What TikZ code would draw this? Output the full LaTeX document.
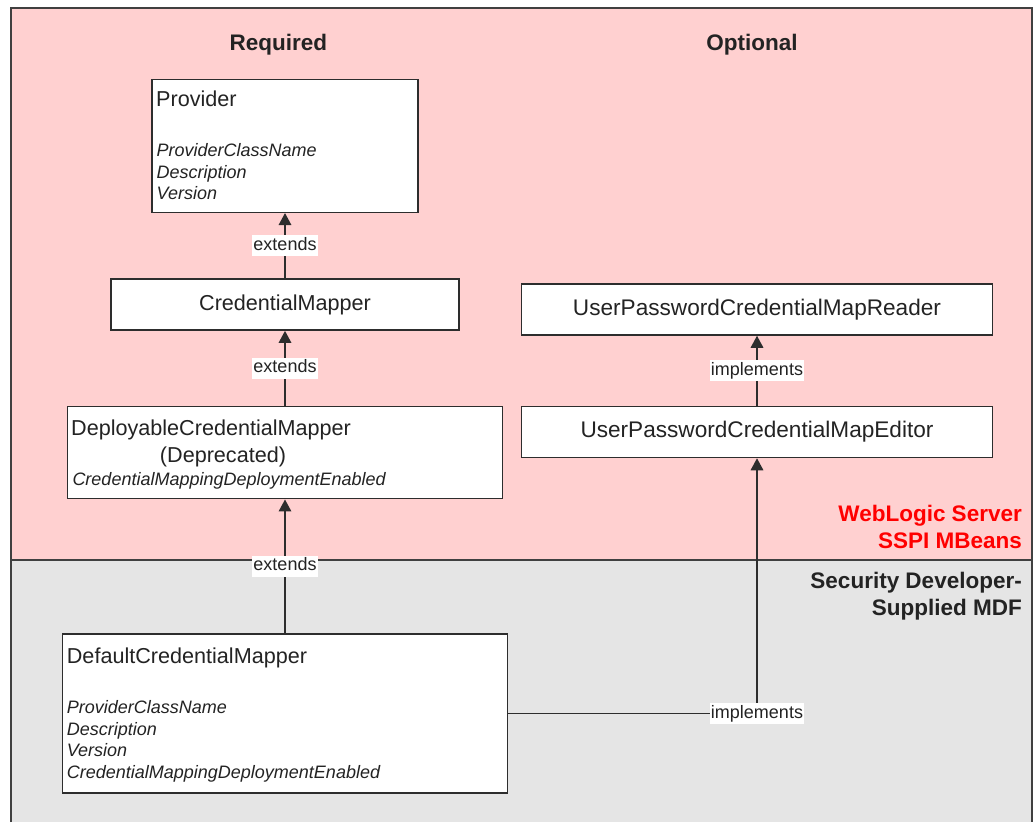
\documentclass[tikz,border=0pt]{standalone}
\usepackage{fontspec}
\setmainfont{Liberation Sans}
\usepackage{xcolor}
\usepackage{tikz}
\usetikzlibrary{arrows.meta}

\definecolor{pinkbg}{RGB}{255,208,208}
\definecolor{graybg}{RGB}{229,229,229}
\definecolor{frameline}{RGB}{64,64,64}
\definecolor{boxline}{RGB}{45,45,45}
\definecolor{txt}{RGB}{35,35,35}
\definecolor{mbeanred}{RGB}{255,0,0}

\tikzset{
  frame/.style={draw=frameline, line width=1.5pt},
  box/.style={draw=boxline, line width=1.5pt, fill=white, inner sep=0pt, text=txt},
  title/.style={font=\fontsize{21.6}{26}\selectfont, text=txt, inner sep=0pt, anchor=base west},
  attr/.style={font=\fontsize{18}{21.6}\selectfont\itshape, text=txt, inner sep=0pt, anchor=base west},
  lbl/.style={font=\fontsize{18}{21}\selectfont, fill=white, text=txt, inner xsep=1pt, inner ysep=2pt, text height=13pt, text depth=4pt},
  head/.style={font=\fontsize{22.5}{27}\selectfont\bfseries, inner sep=0pt},
  arr/.style={draw=boxline, line width=1.6pt, -{Triangle[width=12.5pt,length=12pt]}}
}

\begin{document}
\begin{tikzpicture}[x=1pt,y=-1pt]
  \useasboundingbox (0,0) rectangle (1033,822);
  % the two zones
  \fill[pinkbg] (11,8) rectangle (1032,560);
  \fill[graybg] (11,560) rectangle (1032,822);
  \draw[frame] (11,822) -- (11,8) -- (1032,8) -- (1032,822);
  \draw[frame] (11,560) -- (1032,560);

  \node[head, anchor=base, text=txt] (req) at (278.3,50) {Required};
  \node[head, anchor=base, text=txt] (opt) at (752,50) {Optional};
  \node[head, anchor=base east, text=mbeanred] (wls1) at (1022,521.7) {WebLogic Server};
  \node[head, anchor=base east, text=mbeanred] (wls2) at (1022,548.3) {SSPI MBeans};
  \node[head, anchor=base east, text=txt] (sdm1) at (1022,588.3) {Security Developer-};
  \node[head, anchor=base east, text=txt] (sdm2) at (1022,615) {Supplied MDF};

  % required column
  \node[box, minimum width=266pt, minimum height=133pt] (provider) at (285,145.8) {};
  \node[title] (provider-t) at (156,106) {Provider};
  \foreach \a [count=\i] in {ProviderClassName,Description,Version}
    \node[attr] (provider-\i) at (156.5,135.2+21.5*\i) {\a};

  \node[box, minimum width=348pt, minimum height=51pt, font=\fontsize{21.6}{26}\selectfont] (cmapper) at (285,304.6) {CredentialMapper};

  \node[box, minimum width=435pt, minimum height=92pt] (deploy) at (285,452.7) {};
  \node[title] (deploy-t) at (71,435) {DeployableCredentialMapper};
  \node[title, anchor=base] (deploy-d) at (223,462) {(Deprecated)};
  \node[attr] (deploy-1) at (72.3,485) {CredentialMappingDeploymentEnabled};

  \node[box, minimum width=445pt, minimum height=159pt] (default) at (285,713.6) {};
  \node[title] (default-t) at (66.7,663.3) {DefaultCredentialMapper};
  \foreach \a [count=\i] in {ProviderClassName,Description,Version,CredentialMappingDeploymentEnabled}
    \node[attr] (default-\i) at (66.7,691.6+21.7*\i) {\a};

  % optional column
  \node[box, minimum width=471pt, minimum height=51pt, font=\fontsize{22.6}{27}\selectfont] (reader) at (757,309.5) {UserPasswordCredentialMapReader};
  \node[box, minimum width=471pt, minimum height=51pt, font=\fontsize{22.6}{27}\selectfont] (editor) at (757,432) {UserPasswordCredentialMapEditor};

  % connectors
  \draw[arr] (cmapper) -- (provider) node[lbl, midway] (ext1) {extends};
  \draw[arr] (deploy) -- (cmapper) node[lbl, midway] (ext2) {extends};
  \draw[arr] (default) -- (deploy) node[lbl, midway] (ext3) {extends};
  \draw[arr] (editor) -- (reader) node[lbl, midway] (imp1) {implements};
  \draw[arr] (default.east) -| (editor.south) node[lbl, pos=0.5] (imp2) {implements};
\end{tikzpicture}
\end{document}
